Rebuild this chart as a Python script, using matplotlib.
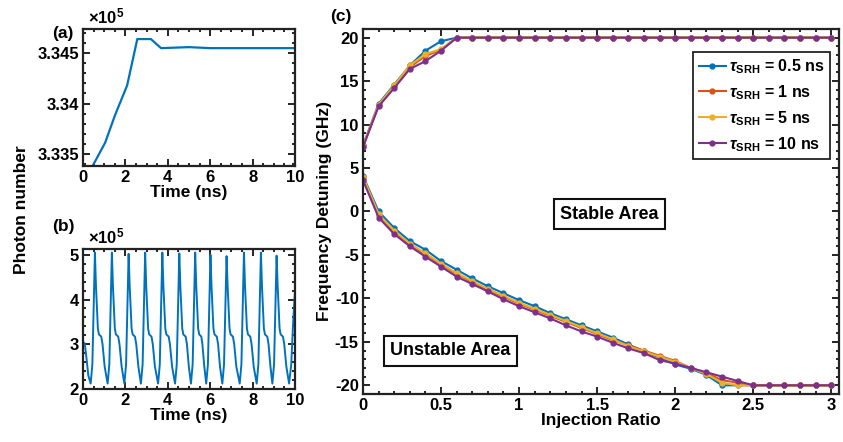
import matplotlib
matplotlib.use("Agg")
import matplotlib.pyplot as plt
import numpy as np
from matplotlib.ticker import AutoMinorLocator, MultipleLocator

plt.rcParams['font.family'] = ['Liberation Sans', 'DejaVu Sans']
plt.rcParams['font.weight'] = 'bold'
plt.rcParams['axes.labelweight'] = 'bold'
plt.rcParams['axes.unicode_minus'] = False
plt.rcParams['font.size'] = 12
plt.rcParams['mathtext.fontset'] = 'custom'
plt.rcParams['mathtext.rm'] = 'Liberation Sans:bold'
plt.rcParams['mathtext.bf'] = 'Liberation Sans:bold'
plt.rcParams['mathtext.it'] = 'Liberation Sans:italic'

# (a) photon number, stable locking (x1e5)
t_a = [0.45, 1.04, 1.5, 2.08, 2.56, 3.2, 3.68, 5.0, 6.0, 7.0, 8.0, 10.0]
n_a = [3.3338, 3.3361, 3.3388, 3.3418, 3.3464, 3.3464, 3.3455, 3.3456, 3.3455, 3.3455, 3.3455, 3.3455]

# (b) photon number, oscillating (x1e5)
t_b = [0.00, 0.08, 0.16, 0.25, 0.36, 0.44, 0.50,
       0.56, 0.61, 0.70, 0.75, 0.86, 0.92, 1.02, 1.16, 1.24, 1.30,
       1.36, 1.41, 1.50, 1.55, 1.66, 1.72, 1.82, 1.95, 2.03, 2.09,
       2.15, 2.20, 2.29, 2.34, 2.45, 2.51, 2.61, 2.73, 2.81, 2.87,
       2.93, 2.98, 3.07, 3.12, 3.23, 3.29, 3.39, 3.54, 3.62, 3.68,
       3.74, 3.79, 3.88, 3.93, 4.04, 4.10, 4.20, 4.34, 4.42, 4.48,
       4.54, 4.59, 4.68, 4.73, 4.84, 4.90, 4.99, 5.09, 5.17, 5.23,
       5.29, 5.34, 5.43, 5.48, 5.58, 5.63, 5.72, 5.81, 5.89, 5.95,
       6.01, 6.06, 6.15, 6.20, 6.31, 6.37, 6.46, 6.57, 6.65, 6.71,
       6.77, 6.82, 6.91, 6.96, 7.07, 7.13, 7.23, 7.39, 7.47, 7.53,
       7.59, 7.64, 7.73, 7.78, 7.89, 7.95, 8.05, 8.19, 8.27, 8.33,
       8.39, 8.44, 8.53, 8.58, 8.69, 8.75, 8.84, 8.93, 9.01, 9.07,
       9.13, 9.18, 9.27, 9.32, 9.43, 9.49, 9.59, 9.72, 9.82, 9.90, 10.0]
n_b = [3.05, 3.02, 2.70, 2.30, 2.12, 2.55, 3.80,
       5.05, 4.30, 3.35, 3.22, 3.17, 3.00, 2.50, 2.12, 2.55, 3.80,
       5.05, 4.30, 3.35, 3.22, 3.17, 3.00, 2.50, 2.12, 2.55, 3.80,
       5.02, 4.30, 3.35, 3.22, 3.17, 3.00, 2.50, 2.12, 2.55, 3.80,
       5.05, 4.30, 3.35, 3.22, 3.17, 3.00, 2.50, 2.12, 2.55, 3.80,
       5.05, 4.30, 3.35, 3.22, 3.17, 3.00, 2.50, 2.12, 2.55, 3.80,
       5.03, 4.30, 3.35, 3.22, 3.17, 3.00, 2.50, 2.12, 2.55, 3.80,
       5.05, 4.30, 3.35, 3.22, 3.17, 3.00, 2.50, 2.12, 2.55, 3.80,
       5.00, 4.30, 3.35, 3.22, 3.17, 3.00, 2.50, 2.12, 2.55, 3.80,
       4.97, 4.30, 3.35, 3.22, 3.17, 3.00, 2.50, 2.12, 2.55, 3.80,
       5.05, 4.30, 3.35, 3.22, 3.17, 3.00, 2.50, 2.12, 2.55, 3.80,
       5.05, 4.30, 3.35, 3.22, 3.17, 3.00, 2.50, 2.12, 2.55, 3.80,
       4.98, 4.30, 3.35, 3.22, 3.17, 3.00, 2.50, 2.12, 2.55, 3.40, 4.20]

# (c) locking map
ratio = [0.0, 0.1, 0.2, 0.3, 0.4, 0.5, 0.6, 0.7, 0.8, 0.9, 1.0,
         1.1, 1.2, 1.3, 1.4, 1.5, 1.6, 1.7, 1.8, 1.9, 2.0,
         2.1, 2.2, 2.3, 2.4, 2.5, 2.6, 2.7, 2.8, 2.9, 3.0]
labels = ['0.5', '1', '5', '10']
colors = ['#0072BD', '#D95319', '#EDB120', '#7E2F8E']

upper = [
    [7.6, 12.4, 14.6, 16.8, 18.5, 19.6] + [20] * 25,
    [7.5, 12.2, 14.4, 16.6, 17.9, 18.6] + [20] * 25,
    [7.5, 12.3, 14.5, 16.8, 18.1, 18.7] + [20] * 25,
    [7.4, 12.1, 14.2, 16.4, 17.3, 18.5] + [20] * 25,
]
lower = [
    [4.1, 0.0, -1.9, -3.4, -4.4, -5.7, -6.7, -7.7, -8.6, -9.4, -10.2,
     -10.9, -11.7, -12.4, -13.1, -13.8, -14.5, -15.3, -16.1, -16.8, -17.6,
     -18.1, -18.8, -20.0, -20.0, -20, -20, -20, -20, -20, -20],
    [3.9, -0.4, -2.3, -3.8, -4.9, -6.1, -7.2, -8.1, -9.0, -9.8, -10.6,
     -11.3, -12.0, -12.7, -13.4, -14.1, -14.8, -15.4, -16.0, -16.6, -17.2,
     -18.0, -18.6, -19.4, -19.7, -20, -20, -20, -20, -20, -20],
    [4.0, -0.3, -2.2, -3.7, -4.8, -6.0, -7.1, -8.0, -8.9, -9.7, -10.5,
     -11.2, -11.9, -12.6, -13.3, -14.0, -14.7, -15.5, -16.1, -16.7, -17.3,
     -18.0, -18.7, -19.7, -20.0, -20, -20, -20, -20, -20, -20],
    [3.6, -0.7, -2.6, -4.0, -5.2, -6.35, -7.5, -8.35, -9.2, -10.1, -10.9,
     -11.6, -12.3, -13.1, -13.8, -14.4, -15.1, -15.75, -16.3, -17.1, -17.5,
     -18.0, -18.5, -19.0, -19.5, -20, -20, -20, -20, -20, -20],
]


def style_axes(ax):
    for s in ax.spines.values():
        s.set_linewidth(1.6)
        s.set_color('#222222')
    ax.tick_params(which='both', direction='in', top=True, right=True,
                   width=1.2, labelsize=12, pad=3)
    ax.tick_params(which='major', length=5)
    ax.tick_params(which='minor', length=2.5)
    for lab in ax.get_xticklabels() + ax.get_yticklabels():
        lab.set_fontweight('bold')


fig = plt.figure(figsize=(8.43, 4.42), dpi=100)

ax_a = fig.add_axes([0.0985, 0.6244, 0.2515, 0.310])
ax_a.plot(t_a, n_a, color='#0072BD', lw=1.6)
ax_a.set_xlim(0, 10)
ax_a.set_ylim(3.3338, 3.3474)
ax_a.set_xticks([0, 2, 4, 6, 8, 10])
ax_a.set_yticks([3.335, 3.34, 3.345])
ax_a.set_yticklabels(['3.335', '3.34', '3.345'])
ax_a.xaxis.set_minor_locator(AutoMinorLocator(4))
ax_a.yaxis.set_minor_locator(AutoMinorLocator(5))
ax_a.set_xlabel('Time (ns)', fontsize=12.5, labelpad=0)
style_axes(ax_a)
fig.text(0.104, 0.94, r'$\times\mathbf{10^5}$', fontsize=12, ha='left', va='bottom')
fig.text(0.062, 0.925, '(a)', fontsize=12.5, ha='left', va='center')

ax_b = fig.add_axes([0.0985, 0.120, 0.2515, 0.3167])
ax_b.plot(t_b, n_b, color='#0072BD', lw=1.4)
ax_b.set_xlim(0, 10)
ax_b.set_ylim(2, 5.13)
ax_b.set_xticks([0, 2, 4, 6, 8, 10])
ax_b.set_yticks([2, 3, 4, 5])
ax_b.xaxis.set_minor_locator(AutoMinorLocator(4))
ax_b.yaxis.set_minor_locator(AutoMinorLocator(5))
ax_b.set_xlabel('Time (ns)', fontsize=12.5, labelpad=0)
style_axes(ax_b)
fig.text(0.104, 0.442, r'$\times\mathbf{10^5}$', fontsize=12, ha='left', va='bottom')
fig.text(0.062, 0.487, '(b)', fontsize=12.5, ha='left', va='center')

fig.text(0.026, 0.525, 'Photon number', rotation=90, fontsize=12.5,
         ha='center', va='center')

ax_c = fig.add_axes([0.4306, 0.1086, 0.5647, 0.8258])
for k in range(4):
    lbl = r'$\mathit{τ}_{\mathbf{SRH}}$' + ' = %s ns' % labels[k]
    ax_c.plot(ratio, upper[k], '.-', color=colors[k], lw=1.5, ms=7, label=lbl)
    ax_c.plot(ratio, lower[k], '.-', color=colors[k], lw=1.5, ms=7)
ax_c.set_xlim(0, 3.05)
ax_c.set_ylim(-21, 21)
ax_c.set_xticks([0, 0.5, 1, 1.5, 2, 2.5, 3])
ax_c.set_xticklabels(['0', '0.5', '1', '1.5', '2', '2.5', '3'])
ax_c.set_yticks([-20, -15, -10, -5, 0, 5, 10, 15, 20])
ax_c.xaxis.set_minor_locator(MultipleLocator(0.1))
ax_c.yaxis.set_minor_locator(MultipleLocator(1))
ax_c.set_xlabel('Injection Ratio', fontsize=12.5, labelpad=0)
ax_c.set_ylabel('Frequency Detuning (GHz)', fontsize=12.5, labelpad=2)
style_axes(ax_c)
leg = ax_c.legend(loc='upper right', bbox_to_anchor=(0.998, 0.96),
                  fancybox=False, edgecolor='#222222', framealpha=1,
                  handlelength=1.7, handletextpad=0.2, borderpad=0.35,
                  labelspacing=0.45, prop={'weight': 'bold', 'size': 11.5})
leg.get_frame().set_linewidth(1.3)

box = dict(boxstyle='square,pad=0.35', fc='white', ec='#111111', lw=1.5)
ax_c.text(1.58, -0.3, 'Stable Area', fontsize=13, ha='center', va='center', bbox=box)
ax_c.text(0.56, -16.05, 'Unstable Area', fontsize=13, ha='center', va='center', bbox=box)
fig.text(0.392, 0.962, '(c)', fontsize=12.5, ha='left', va='center')

fig.savefig('out.png', dpi=100)
